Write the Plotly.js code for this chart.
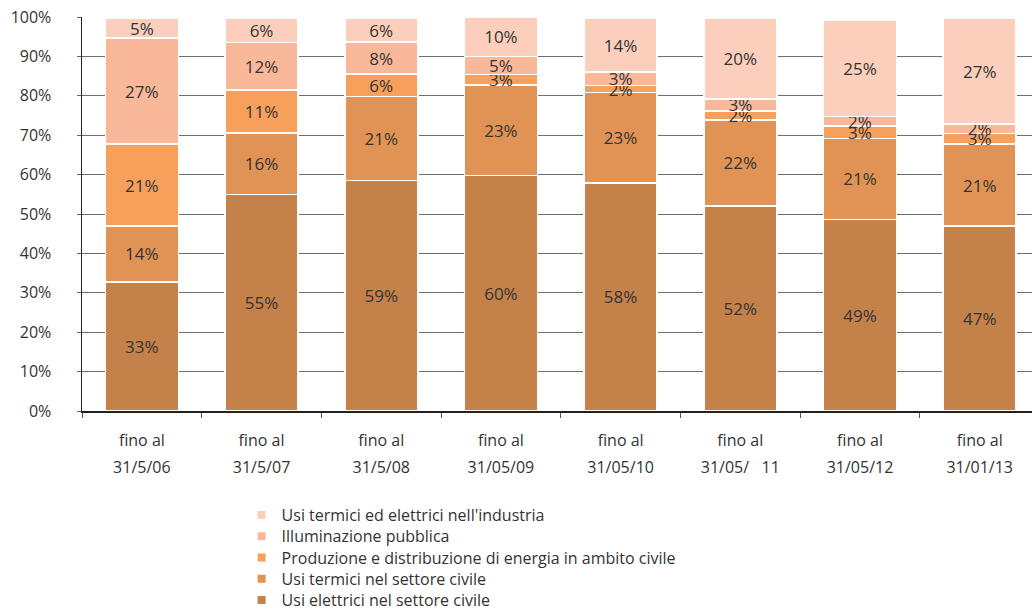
<!DOCTYPE html>
<html>
<head>
<meta charset="utf-8">
<script src="https://cdn.plot.ly/plotly-3.0.1.min.js"></script>
<style>html,body{margin:0;padding:0;background:#fff;}#chart{width:1032px;height:610px;}</style>
</head>
<body>
<div id="chart"></div>
<script>
// Period categories (tick labels)
var periods = ['31/5/06', '31/5/07', '31/5/08', '31/05/09', '31/05/10', '31/05/\u00a0\u00a0\u00a011', '31/05/12', '31/01/13'];
var periodPrefix = 'fino al';

// Series values (% share)
var usiElettriciCivile = [32.7, 55.0, 58.5, 59.8, 57.9, 52.1, 48.6, 47.0];
var usiTermiciCivile   = [14.3, 15.5, 21.3, 23.0, 22.9, 21.8, 20.6, 20.7];
var produzioneDistrib  = [20.7, 11.0, 5.7, 2.6, 1.8, 2.3, 3.2, 2.7];
var illuminazione      = [27.0, 12.0, 8.1, 4.6, 3.4, 3.0, 2.3, 2.4];
var usiIndustria       = [5.0, 6.2, 6.1, 10.0, 13.7, 20.4, 24.6, 26.9];

var seriesNames = [
  'Usi elettrici nel settore civile',
  'Usi termici nel settore civile',
  'Produzione e distribuzione di energia in ambito civile',
  'Illuminazione pubblica',
  "Usi termici ed elettrici nell'industria"
];
var seriesValues = [usiElettriciCivile, usiTermiciCivile, produzioneDistrib, illuminazione, usiIndustria];
var seriesColors = ['#C4824A', '#E09354', '#F7A05C', '#F9B89A', '#FCCFBC'];

var FONT = '"Open Sans", "Liberation Sans", sans-serif';
var TXT = '#333333';

var traces = [];
seriesValues.forEach(function (vals, i) {
  traces.push({
    type: 'bar',
    name: seriesNames[i],
    x: periods,
    y: vals,
    text: vals.map(function (v) { return Math.round(v) + '%'; }),
    textposition: 'inside',
    insidetextanchor: 'middle',
    constraintext: 'none',
    textfont: {family: FONT, size: 17, color: TXT},
    marker: {color: seriesColors[i], line: {color: '#ffffff', width: 1.6}},
    showlegend: false,
    hoverinfo: 'skip'
  });
});

// Legend entries (small square markers), top to bottom as in the reference,
// one legend box per entry so the row spacing can follow the reference.
var legendIds = ['legend', 'legend2', 'legend3', 'legend4', 'legend5'];
var legendTops = [498, 519.3, 540.6, 561.9, 583.2]; // container pixels from top
var k = 0;
for (var j = seriesNames.length - 1; j >= 0; j--, k++) {
  traces.push({
    type: 'scatter',
    mode: 'markers',
    name: seriesNames[j],
    x: [null], y: [null],
    xaxis: 'x2',
    legend: legendIds[k],
    marker: {symbol: 'square', size: 8, color: seriesColors[j]},
    showlegend: true,
    hoverinfo: 'skip'
  });
}

var xr = [-0.5, 7.437];
var layout = {
  width: 1032, height: 610,
  margin: {l: 82, r: 0, t: 17, b: 199, pad: 0, autoexpand: false},
  paper_bgcolor: '#ffffff',
  plot_bgcolor: '#ffffff',
  barmode: 'stack',
  bargap: 0.39,
  font: {family: FONT, color: TXT, size: 16},
  uniformtext: {mode: 'show', minsize: 17},
  xaxis: {
    type: 'category',
    range: xr,
    showline: true, linecolor: '#222222', linewidth: 1.5,
    ticks: 'outside', tickson: 'boundaries', ticklen: 5, tickcolor: '#555555', tickwidth: 1,
    showgrid: false, zeroline: false,
    tickfont: {family: FONT, size: 16, color: TXT},
    ticklabelstandoff: 41
  },
  xaxis2: {
    overlaying: 'x', anchor: 'y', side: 'bottom',
    range: xr,
    showline: false, showgrid: false, zeroline: false, ticks: '',
    tickmode: 'array',
    tickvals: periods.map(function (p, n) { return n; }),
    ticktext: periods.map(function () { return periodPrefix; }),
    tickfont: {family: FONT, size: 16, color: TXT},
    ticklabelstandoff: 18
  },
  yaxis: {
    range: [0, 100],
    dtick: 10,
    ticksuffix: '%',
    showline: true, linecolor: '#222222', linewidth: 1.5,
    ticks: 'outside', ticklen: 4, tickcolor: '#666666', tickwidth: 1,
    showgrid: true, gridcolor: '#6e6e6e', gridwidth: 1,
    zeroline: false,
    tickfont: {family: FONT, size: 16, color: TXT},
    ticklabelstandoff: 22
  },
  showlegend: true
};
legendIds.forEach(function (id, n) {
  layout[id] = {
    x: 0.168, xanchor: 'left', xref: 'paper',
    y: 1 - legendTops[n] / 610, yanchor: 'top', yref: 'container',
    font: {family: FONT, size: 16, color: TXT},
    bgcolor: 'rgba(0,0,0,0)',
    borderwidth: 0
  };
});

Plotly.newPlot('chart', traces, layout, {displayModeBar: false, staticPlot: true});
</script>
</body>
</html>
